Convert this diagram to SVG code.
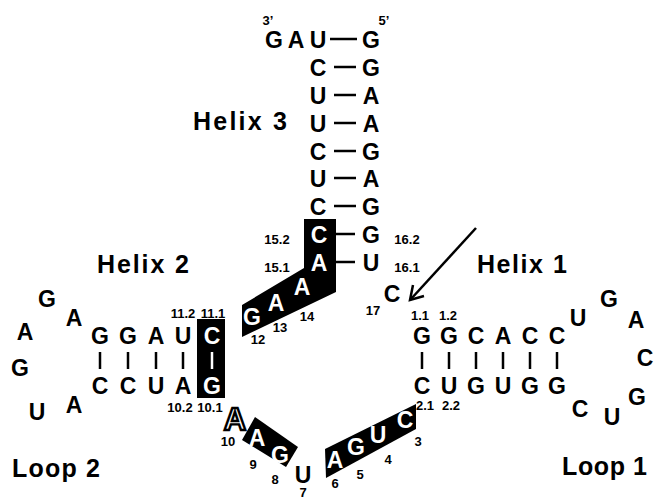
<svg xmlns="http://www.w3.org/2000/svg" width="654" height="498" viewBox="0 0 654 498">
  <style>
    text { font-family: "Liberation Sans", Arial, Helvetica, sans-serif; font-weight: bold; }
    .nt { font-size: 23px; text-anchor: middle; fill: #000; }
    .w { fill: #fff; }
    .out { font-size: 31px; text-anchor: middle; fill: #fff; stroke: #000; stroke-width: 2.4; }
    .num { font-size: 13px; text-anchor: middle; fill: #000; }
    .lbl { font-size: 25px; fill: #000; }
    .prime { font-size: 13px; text-anchor: middle; }
    .pair { stroke: #000; stroke-width: 2.5; fill: none; }
    .pairw { stroke: #fff; stroke-width: 2.5; fill: none; }
    .box { fill: #000; }
  </style>

  <rect width="654" height="498" fill="#fff"/>

  <!-- region labels -->
  <g id="labels">
    <text class="lbl" x="193" y="130" textLength="94" lengthAdjust="spacing">Helix 3</text>
    <text class="lbl" x="97" y="273" textLength="92" lengthAdjust="spacing">Helix 2</text>
    <text class="lbl" x="477" y="273" textLength="90" lengthAdjust="spacing">Helix 1</text>
    <text class="lbl" x="12" y="477" textLength="88" lengthAdjust="spacing">Loop 2</text>
    <text class="lbl" x="562" y="475" textLength="85" lengthAdjust="spacing">Loop 1</text>
  </g>

  <!-- highlighted (boxed) segments -->
  <g id="boxes">
    <polygon class="box" points="304,219 336,219 336,292 242,337 242,305 304,268"/>
    <rect class="box" x="197" y="319" width="28" height="79"/>
    <polygon class="box" points="255,417 298,447 286,467 242,440"/>
    <polygon class="box" points="325,449 416,404 416,429 326,478"/>
  </g>

  <!-- base-pair connectors -->
  <g id="connectors">
    <!-- helix 3 -->
    <line class="pair" x1="330" y1="39" x2="357" y2="39"/>
    <line class="pair" x1="334" y1="67" x2="356" y2="67"/>
    <line class="pair" x1="334" y1="95" x2="356" y2="95"/>
    <line class="pair" x1="334" y1="123" x2="356" y2="123"/>
    <line class="pair" x1="334" y1="151" x2="356" y2="151"/>
    <line class="pair" x1="334" y1="178" x2="356" y2="178"/>
    <line class="pair" x1="334" y1="206" x2="356" y2="206"/>
    <line class="pair" x1="336" y1="234" x2="355" y2="234"/>
    <line class="pair" x1="336" y1="262" x2="355" y2="262"/>
    <!-- helix 2 -->
    <line class="pair" x1="100" y1="352" x2="100" y2="369"/>
    <line class="pair" x1="128" y1="352" x2="128" y2="369"/>
    <line class="pair" x1="156" y1="352" x2="156" y2="369"/>
    <line class="pair" x1="183" y1="352" x2="183" y2="369"/>
    <line class="pairw" x1="212" y1="352" x2="212" y2="369"/>
    <!-- helix 1 -->
    <line class="pair" x1="422" y1="352" x2="422" y2="369"/>
    <line class="pair" x1="449" y1="352" x2="449" y2="369"/>
    <line class="pair" x1="476" y1="352" x2="476" y2="369"/>
    <line class="pair" x1="503" y1="352" x2="503" y2="369"/>
    <line class="pair" x1="530" y1="352" x2="530" y2="369"/>
    <line class="pair" x1="557" y1="352" x2="557" y2="369"/>
    <!-- cleavage-site arrow -->
    <line class="pair" x1="476" y1="228" x2="411" y2="299" stroke-width="3"/>
    <polyline class="pair" points="424,296 410,300 413,285" stroke-width="3" stroke-linejoin="miter"/>
  </g>

  <!-- helix 3 -->
  <g id="helix3">
    <text class="prime" x="268" y="25">3’</text>
    <text class="prime" x="384" y="25">5’</text>
    <text class="nt" x="274" y="48">G</text>
    <text class="nt" x="296" y="48">A</text>
    <text class="nt" x="318" y="48">U</text>
    <text class="nt" x="371" y="48">G</text>
    <text class="nt" x="318" y="76">C</text>
    <text class="nt" x="371" y="76">G</text>
    <text class="nt" x="318" y="104">U</text>
    <text class="nt" x="371" y="104">A</text>
    <text class="nt" x="318" y="132">U</text>
    <text class="nt" x="371" y="132">A</text>
    <text class="nt" x="318" y="160">C</text>
    <text class="nt" x="371" y="160">G</text>
    <text class="nt" x="318" y="187">U</text>
    <text class="nt" x="371" y="187">A</text>
    <text class="nt" x="318" y="215">C</text>
    <text class="nt" x="371" y="215">G</text>
    <text class="nt w" x="319" y="243">C</text>
    <text class="nt" x="371" y="243">G</text>
    <text class="nt w" x="319" y="271">A</text>
    <text class="nt" x="371" y="271">U</text>
    <text class="num" x="277" y="244">15.2</text>
    <text class="num" x="277" y="272">15.1</text>
    <text class="num" x="407" y="244">16.2</text>
    <text class="num" x="407" y="272">16.1</text>
  </g>

  <!-- junction strand 12-14 -->
  <g id="j12-14">
    <text class="nt w" x="302" y="295">A</text>
    <text class="nt w" x="276" y="311">A</text>
    <text class="nt w" x="252" y="325">G</text>
    <text class="num" x="307" y="321">14</text>
    <text class="num" x="280" y="332">13</text>
    <text class="num" x="258" y="344">12</text>
  </g>

  <!-- nucleotide 17 -->
  <g id="n17">
    <text class="nt" x="392" y="302">C</text>
    <text class="num" x="373" y="315">17</text>
  </g>

  <!-- helix 2 -->
  <g id="helix2">
    <text class="nt" x="100" y="344">G</text>
    <text class="nt" x="128" y="344">G</text>
    <text class="nt" x="156" y="344">A</text>
    <text class="nt" x="183" y="344">U</text>
    <text class="nt w" x="212" y="344">C</text>
    <text class="nt" x="100" y="394">C</text>
    <text class="nt" x="128" y="394">C</text>
    <text class="nt" x="156" y="394">U</text>
    <text class="nt" x="183" y="394">A</text>
    <text class="nt w" x="212" y="394">G</text>
    <text class="num" x="183" y="318">11.2</text>
    <text class="num" x="213" y="318">11.1</text>
    <text class="num" x="180" y="412">10.2</text>
    <text class="num" x="210" y="412">10.1</text>
  </g>

  <!-- loop 2 -->
  <g id="loop2">
    <text class="nt" x="47" y="307">G</text>
    <text class="nt" x="74" y="326">A</text>
    <text class="nt" x="25" y="340">A</text>
    <text class="nt" x="20" y="376">G</text>
    <text class="nt" x="37" y="420">U</text>
    <text class="nt" x="74" y="413">A</text>
  </g>

  <!-- junction strand 3-10 -->
  <g id="j3-10">
    <text class="out" x="235" y="430">A</text>
    <text class="num" x="228" y="446">10</text>
    <text class="nt w" x="257" y="446">A</text>
    <text class="nt w" x="280" y="463">G</text>
    <text class="num" x="253" y="469">9</text>
    <text class="num" x="275" y="484">8</text>
    <text class="nt" x="303" y="483">U</text>
    <text class="num" x="303" y="497">7</text>
    <text class="nt w" x="335" y="468">A</text>
    <text class="nt w" x="356" y="455">G</text>
    <text class="nt w" x="378" y="443">U</text>
    <text class="nt w" x="405" y="428">C</text>
    <text class="num" x="335" y="488">6</text>
    <text class="num" x="360" y="479">5</text>
    <text class="num" x="388" y="464">4</text>
    <text class="num" x="418" y="446">3</text>
  </g>

  <!-- helix 1 -->
  <g id="helix1">
    <text class="nt" x="422" y="344">G</text>
    <text class="nt" x="449" y="344">G</text>
    <text class="nt" x="476" y="344">C</text>
    <text class="nt" x="503" y="344">A</text>
    <text class="nt" x="530" y="344">C</text>
    <text class="nt" x="557" y="344">C</text>
    <text class="nt" x="422" y="394">C</text>
    <text class="nt" x="449" y="394">U</text>
    <text class="nt" x="476" y="394">G</text>
    <text class="nt" x="503" y="394">U</text>
    <text class="nt" x="530" y="394">G</text>
    <text class="nt" x="557" y="394">G</text>
    <text class="num" x="420" y="320">1.1</text>
    <text class="num" x="448" y="320">1.2</text>
    <text class="num" x="425" y="410">2.1</text>
    <text class="num" x="451" y="410">2.2</text>
  </g>

  <!-- loop 1 -->
  <g id="loop1">
    <text class="nt" x="578" y="326">U</text>
    <text class="nt" x="609" y="307">G</text>
    <text class="nt" x="636" y="328">A</text>
    <text class="nt" x="645" y="366">C</text>
    <text class="nt" x="637" y="405">G</text>
    <text class="nt" x="612" y="425">U</text>
    <text class="nt" x="580" y="417">C</text>
  </g>
</svg>
